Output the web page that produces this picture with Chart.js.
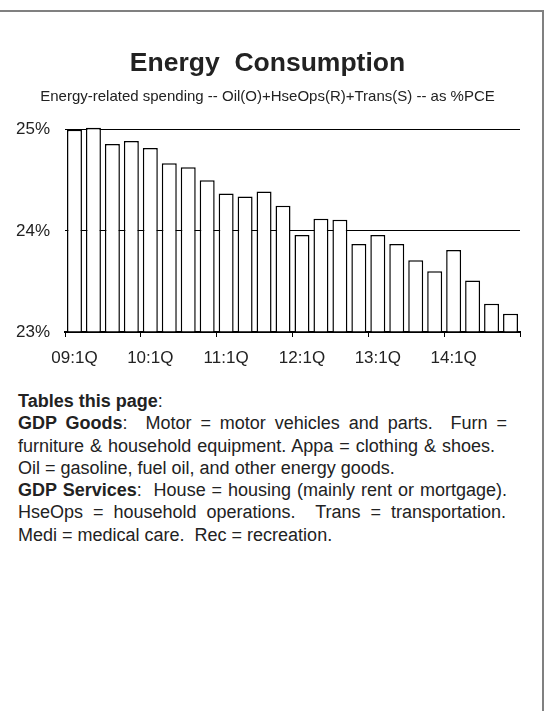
<!DOCTYPE html>
<html>
<head>
<meta charset="utf-8">
<script src="https://cdn.jsdelivr.net/npm/chart.js@4.4.1/dist/chart.umd.min.js"></script>
<style>
  html, body { margin: 0; padding: 0; background: #fff; }
  body { width: 548px; height: 711px; position: relative; overflow: hidden; font-family: "Liberation Sans", Arial, sans-serif; color: #222; }
  #frame { position: absolute; left: -4px; top: 10px; width: 546px; height: 720px; border-top: 2px solid #808080; border-right: 2px solid #808080; pointer-events: none; }
  #wrap { position: absolute; left: 0; top: 0; width: 548px; height: 380px; }
  #notes { position: absolute; left: 18px; top: 390px; font-size: 18px; line-height: 22.3px; }
  #notes div { white-space: nowrap; }
  #notes .j { text-align: justify; text-align-last: justify; white-space: normal; }
</style>
</head>
<body>
<div id="wrap"><canvas id="chart"></canvas></div>
<div id="notes">
  <div><b>Tables this page</b>:</div>
  <div class="j" style="width:489px"><b>GDP Goods</b>:&nbsp; Motor = motor vehicles and parts.&nbsp; Furn =</div>
  <div class="j" style="width:477px">furniture &amp; household equipment. Appa = clothing &amp; shoes.</div>
  <div>Oil = gasoline, fuel oil, and other energy goods.</div>
  <div class="j" style="width:489px"><b>GDP Services</b>:&nbsp; House = housing (mainly rent or mortgage).</div>
  <div class="j" style="width:488px">HseOps = household operations.&nbsp; Trans = transportation.</div>
  <div>Medi = medical care.&nbsp; Rec = recreation.</div>
</div>
<div id="frame"></div>
<script>
const chartElement = document.getElementById("chart");

// Quarters 09:1Q .. 14:4Q
const quarters = [
  "09:1Q", "09:2Q", "09:3Q", "09:4Q",
  "10:1Q", "10:2Q", "10:3Q", "10:4Q",
  "11:1Q", "11:2Q", "11:3Q", "11:4Q",
  "12:1Q", "12:2Q", "12:3Q", "12:4Q",
  "13:1Q", "13:2Q", "13:3Q", "13:4Q",
  "14:1Q", "14:2Q", "14:3Q", "14:4Q"
];

// Energy-related spending as % of PCE
const energyShare = [
  25.00, 25.02, 24.86, 24.89,
  24.82, 24.67, 24.63, 24.50,
  24.37, 24.34, 24.39, 24.25,
  23.96, 24.12, 24.11, 23.87,
  23.96, 23.87, 23.71, 23.60,
  23.81, 23.51, 23.28, 23.18
];

const yTicks = [23, 24, 25];

const font = "'Liberation Sans', Arial, sans-serif";

const config = {
  type: 'bar',
  data: {
    labels: quarters,
    datasets: [{
      data: energyShare,
      base: 23,
      backgroundColor: '#fff',
      borderColor: '#000',
      borderWidth: 1.5,
      barPercentage: 0.79,
      categoryPercentage: 1,
      clip: false,
    }]
  },
  options: {
    responsive: false,
    animation: false,
    layout: { padding: { left: 15, right: 28, top: 0, bottom: 0 } },
    plugins: {
      legend: { display: false },
      tooltip: { enabled: false },
      title: {
        display: true,
        text: 'Energy  Consumption',
        color: '#222',
        font: { family: font, size: 26.5, weight: 'bold' },
        padding: { top: 48, bottom: 8 },
      },
      subtitle: {
        display: true,
        text: 'Energy-related spending -- Oil(O)+HseOps(R)+Trans(S) -- as %PCE',
        color: '#222',
        font: { family: font, size: 15 },
        padding: { top: 0, bottom: 24 },
      },
    },
    scales: {
      x: {
        offset: true,
        border: { display: true, color: '#000', width: 2 },
        grid: {
          offset: true,
          drawOnChartArea: false,
          tickLength: 5,
          // tick marks only at the start of each year and at the end
          color: ctx => (ctx.index === undefined || ctx.index % 4 === 0) ? '#000' : 'rgba(0,0,0,0)',
        },
        ticks: {
          autoSkip: false,
          maxRotation: 0,
          padding: 11,
          color: '#222',
          font: { family: font, size: 17 },
          callback: (v, i) => quarters[i].endsWith(':1Q') ? quarters[i] : '',
        },
        afterFit: scale => { scale.height = 48; },
      },
      y: {
        min: 23,
        max: 25,
        border: { display: false },
        grid: { color: '#000', lineWidth: 1, drawTicks: false },
        afterBuildTicks: scale => { scale.ticks = yTicks.map(v => ({ value: v })); },
        ticks: {
          padding: 15,
          color: '#222',
          font: { family: font, size: 17 },
          callback: v => v + '%',
        },
        afterFit: scale => { scale.width = 50; },
      }
    }
  }
};

chartElement.width = 548;
chartElement.height = 380;
const chart = new Chart(chartElement, config);
</script>
</body>
</html>
